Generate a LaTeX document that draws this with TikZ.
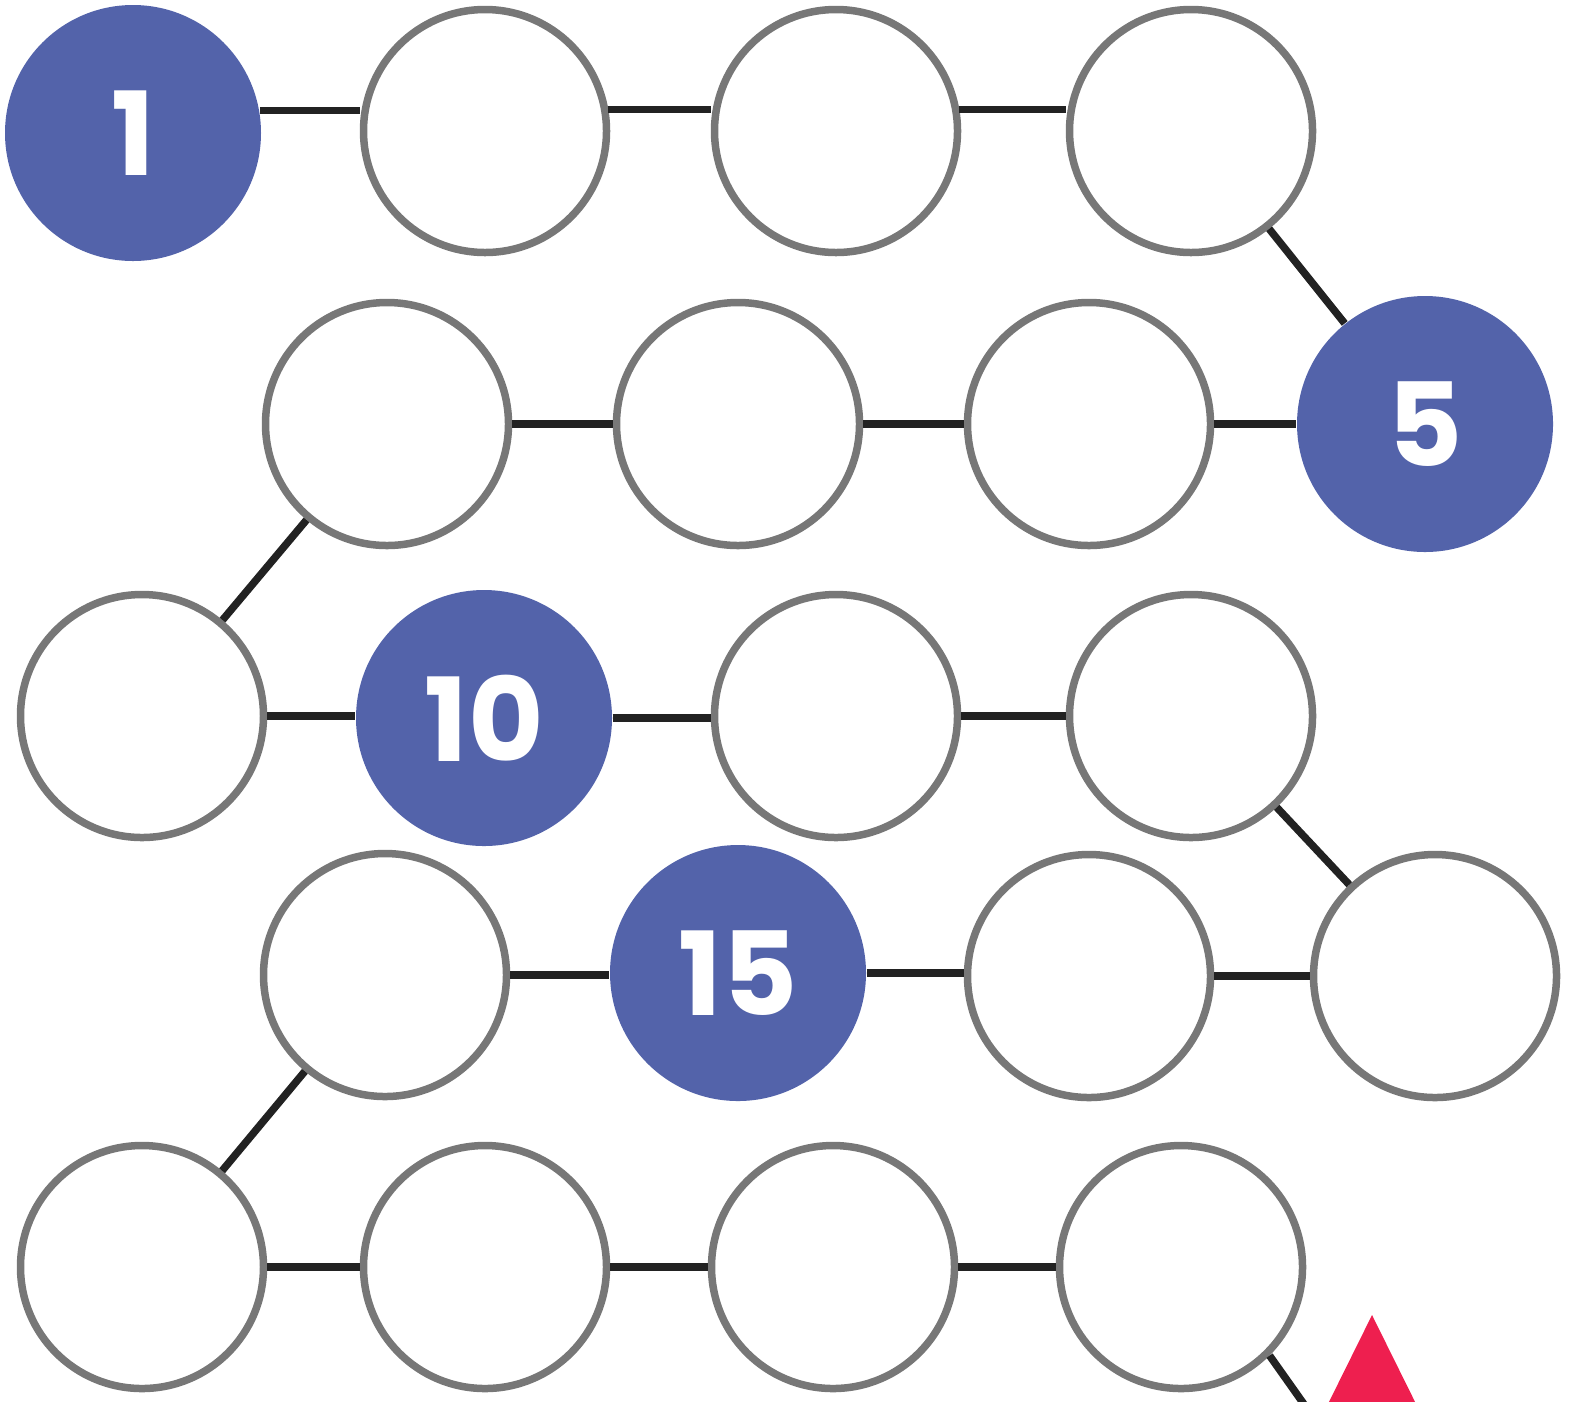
\documentclass[tikz,border=0pt]{standalone}
\usepackage{fontspec}
\newfontfamily\numfont{Poppins}
\definecolor{ringgray}{HTML}{777777}
\definecolor{stepblue}{HTML}{5363AA}
\definecolor{linkblack}{HTML}{222222}
\definecolor{flagred}{HTML}{EE1F4F}
\tikzset{
  ring/.style={circle, draw=ringgray, line width=0.075cm, minimum size=2.43cm, inner sep=0pt},
  goal/.style={circle, fill=stepblue, minimum size=2.56cm, inner sep=0pt, text=white,
    font=\numfont\bfseries\fontsize{33}{33}\selectfont},
  link/.style={draw=linkblack, line width=0.075cm}
}
\begin{document}
\begin{tikzpicture}[x=0.1mm, y=-0.1mm]
    \clip (0,0) rectangle (1573,1401);
    % row 1
    \node[goal] (s1) at (133,133) {1};
    \node[ring] (s2) at (485,131) {};
    \node[ring] (s3) at (836,131) {};
    \node[ring] (s4) at (1191,131) {};
    % row 2
    \node[goal] (s5) at (1425,424) {5};
    \node[ring] (s6) at (1089,424) {};
    \node[ring] (s7) at (738,424) {};
    \node[ring] (s8) at (387,424) {};
    % row 3
    \node[ring] (s9) at (142,716) {};
    \node[goal] (s10) at (484,718) {10};
    \node[ring] (s11) at (836,716) {};
    \node[ring] (s12) at (1191,716) {};
    % row 4
    \node[ring] (s13) at (1435,976) {};
    \node[ring] (s14) at (1089,976) {};
    \node[goal] (s15) at (738,973) {15};
    \node[ring] (s16) at (385,975) {};
    % row 5
    \node[ring] (s17) at (142,1267) {};
    \node[ring] (s18) at (485,1267) {};
    \node[ring] (s19) at (833,1267) {};
    \node[ring] (s20) at (1181,1267) {};
    \coordinate (exit) at (1318,1424);

    \draw[link] (s1.10) -- (s1.10 -| s2.west);
    \draw[link] (s2.10) -- (s2.10 -| s3.west);
    \draw[link] (s3.10) -- (s3.10 -| s4.west);
    \draw[link] (s4) -- (s5);
    \draw[link] (s6.east) -- (s6.east -| s5.west);
    \draw[link] (s7.east) -- (s7.east -| s6.west);
    \draw[link] (s8.east) -- (s8.east -| s7.west);
    \draw[link] (s8) -- (s9);
    \draw[link] (s9.east) -- (s9.east -| s10.west);
    \draw[link] (s10.east) -- (s10.east -| s11.west);
    \draw[link] (s11.east) -- (s11.east -| s12.west);
    \draw[link] (s12) -- (s13);
    \draw[link] (s14.east) -- (s14.east -| s13.west);
    \draw[link] (s15.east) -- (s15.east -| s14.west);
    \draw[link] (s16.east) -- (s16.east -| s15.west);
    \draw[link] (s16) -- (s17);
    \draw[link] (s17.east) -- (s17.east -| s18.west);
    \draw[link] (s18.east) -- (s18.east -| s19.west);
    \draw[link] (s19.east) -- (s19.east -| s20.west);
    \draw[link] (s20.-45) -- (exit);

    \fill[flagred] (1372,1315) -- (1320,1420) -- (1424,1420) -- cycle;
\end{tikzpicture}
\end{document}
